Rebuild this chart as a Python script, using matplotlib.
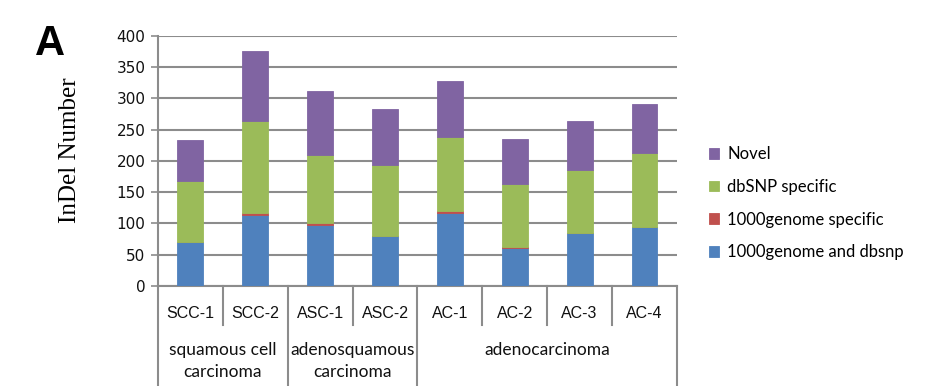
import numpy as np
import matplotlib.pyplot as plt
import matplotlib.transforms as mtransforms

samples = ["SCC-1", "SCC-2", "ASC-1", "ASC-2", "AC-1", "AC-2", "AC-3", "AC-4"]
groups = ["squamous cell\ncarcinoma", "adenosquamous\ncarcinoma", "adenocarcinoma"]
group_sizes = [2, 2, 4]

both = [71, 113, 98, 80, 117, 60, 85, 94]          # 1000genome and dbsnp
kg_only = [0, 4, 2, 0, 2.5, 2.5, 0, 0]              # 1000genome specific
dbsnp_only = [97, 147, 110, 113, 118, 101, 101, 118]  # dbSNP specific
novel = [65, 112, 102, 90, 90, 71, 78, 79]

series = [
    ("1000genome and dbsnp", both, "#4F81BD"),
    ("1000genome specific", kg_only, "#C0504D"),
    ("dbSNP specific", dbsnp_only, "#9BBB59"),
    ("Novel", novel, "#8064A2"),
]

grid_col = "#8c8c8c"

fig = plt.figure(figsize=(9.25, 3.86), dpi=100)
ax = fig.add_axes([0.1708, 0.259, 0.561, 0.6485])

x = np.arange(len(samples))
bottom = np.zeros(len(samples))
handles = []
for label, vals, col in series:
    vals = np.array(vals, dtype=float)
    b = ax.bar(x, vals, width=0.4, bottom=bottom, color=col, label=label,
               edgecolor=col, linewidth=0.6, zorder=3)
    handles.append(b)
    bottom += vals

ax.set_xlim(-0.5, len(samples) - 0.5)
ax.set_ylim(0, 400)
ax.set_yticks(range(0, 401, 50))
ax.yaxis.grid(True, color=grid_col, linewidth=1.5, zorder=0)
ax.set_xticks([])
for s in ["top", "right"]:
    ax.spines[s].set_visible(False)
for s in ["left", "bottom"]:
    ax.spines[s].set_color(grid_col)
    ax.spines[s].set_linewidth(1.5)
ax.tick_params(axis="y", length=5, width=1.2, color=grid_col, pad=4,
               labelsize=11, labelcolor="#111111")
for t in ax.get_yticklabels():
    t.set_fontfamily("DejaVu Sans")

# multi-level category axis below the plot
trans = mtransforms.blended_transform_factory(ax.transData, ax.transAxes)
y_short = -0.156
y_long = -0.42
group_edges = list(np.cumsum([0] + group_sizes) - 0.5)
for i in range(len(samples) + 1):
    xe = i - 0.5
    y1 = y_long if xe in group_edges else y_short
    ax.plot([xe, xe], [0, y1], color=grid_col, linewidth=1.5,
            transform=trans, clip_on=False)
for i, s in enumerate(samples):
    ax.text(i, -0.11, s, transform=trans, ha="center", va="center",
            fontsize=11.5, family="Liberation Sans", color="#111111")
start = 0
for g, n in zip(groups, group_sizes):
    cx = start + (n - 1) / 2
    ax.text(cx, -0.225, g, transform=trans, ha="center", va="top",
            fontsize=12.5, family="Lato", color="#111111", linespacing=1.4)
    start += n

ax.set_ylabel("InDel Number", family="Liberation Serif", fontsize=18)
ax.yaxis.set_label_coords(-0.148, 0.543)

fig.text(0.038, 0.857, "A", fontsize=30, fontweight="bold",
         family="Liberation Sans", va="baseline")

leg = fig.legend(handles[::-1], [h.get_label() for h in handles[::-1]],
                 loc="upper left", bbox_to_anchor=(0.75, 0.66), frameon=False,
                 handlelength=0.6, handleheight=0.6, handletextpad=0.5,
                 labelspacing=1.0, prop={"family": "Lato", "size": 12})

fig.savefig("out.png", dpi=100)
